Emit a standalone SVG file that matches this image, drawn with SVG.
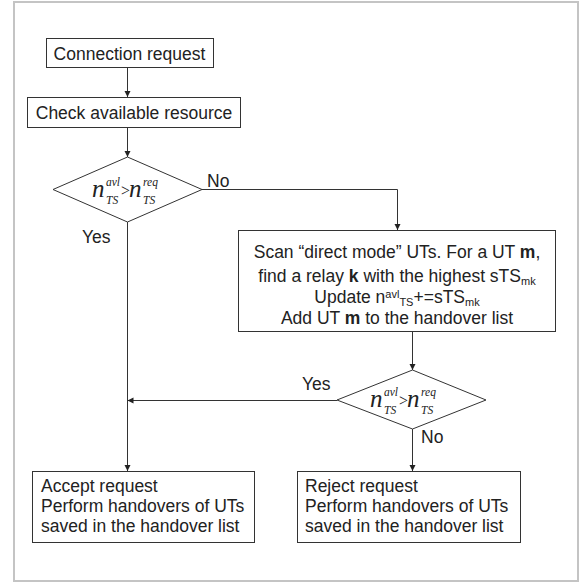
<svg xmlns="http://www.w3.org/2000/svg" width="582" height="583" viewBox="0 0 582 583">
<defs>
<style>
.box{fill:#fff;stroke:#333;stroke-width:1}
.t{font-family:"Liberation Sans",Arial,sans-serif;font-size:17.5px;fill:#222}
.f{font-family:"Liberation Serif","Times New Roman",serif;font-style:italic;fill:#222}
.big{font-size:25px}
.sm{font-size:11.5px}
.op{font-family:"Liberation Serif","Times New Roman",serif;font-size:16px;fill:#222}
.sub{font-size:11px}
.b{font-weight:bold}
.con{fill:none;stroke:#333;stroke-width:1}
</style>
<marker id="arr" markerWidth="8" markerHeight="8" refX="6" refY="3" orient="auto" markerUnits="userSpaceOnUse">
<path d="M0,0 L6,3 L0,6 Z" fill="#222"/>
</marker>
</defs>
<rect x="0" y="0" width="582" height="583" fill="#fff"/>
<rect x="14" y="2" width="564" height="579" fill="none" stroke="#c4c4c4" stroke-width="2"/>

<g id="connectors">
<path class="con" d="M127.5,67 V97" marker-end="url(#arr)"/>
<path class="con" d="M127.5,127 V157" marker-end="url(#arr)"/>
<path class="con" d="M202,189.5 H397.5 V230" marker-end="url(#arr)"/>
<path class="con" d="M412.5,332 V370" marker-end="url(#arr)"/>
<path class="con" d="M127.5,222 V471" marker-end="url(#arr)"/>
<path class="con" d="M337,400.5 H127.5" marker-end="url(#arr)"/>
<path class="con" d="M412.5,429 V471" marker-end="url(#arr)"/>
<text class="t" x="207" y="187">No</text>
<text class="t" x="82" y="243">Yes</text>
<text class="t" x="302" y="390">Yes</text>
<text class="t" x="421" y="443">No</text>
</g>

<g id="start">
<rect class="box" x="46.5" y="38.5" width="167" height="29"/>
<text class="t" x="129.5" y="60" text-anchor="middle">Connection request</text>
</g>

<g id="check">
<rect class="box" x="27.5" y="97.5" width="213" height="30"/>
<text class="t" x="134" y="119" text-anchor="middle">Check available resource</text>
</g>

<g id="decision1">
<polygon class="box" points="127.5,157 202,189.5 127.5,222 53,189.5"/>
<text class="f big" x="92" y="197">n</text>
<text class="f sm" x="106" y="186">avl</text>
<text class="f sm" x="106" y="204">TS</text>
<text class="op" x="121" y="196">&gt;</text>
<text class="f big" x="129" y="197">n</text>
<text class="f sm" x="143" y="186">req</text>
<text class="f sm" x="143" y="204">TS</text>
</g>

<g id="scan">
<rect class="box" x="238.5" y="230.5" width="317" height="101"/>
<text class="t" x="397" y="258" text-anchor="middle">Scan “direct mode” UTs. For a UT <tspan class="b">m</tspan>,</text>
<text class="t" x="397" y="282" text-anchor="middle">find a relay <tspan class="b">k</tspan> with the highest sTS<tspan class="sub" dy="3">mk</tspan></text>
<text class="t" x="397" y="303" text-anchor="middle">Update n<tspan class="sub" dy="-5">avl</tspan><tspan class="sub" dy="8">TS</tspan><tspan dy="-3">+=sTS</tspan><tspan class="sub" dy="3">mk</tspan></text>
<text class="t" x="397" y="324" text-anchor="middle">Add UT <tspan class="b">m</tspan> to the handover list</text>
</g>

<g id="decision2">
<polygon class="box" points="412.5,370 486,400 412.5,429 337,400"/>
<text class="f big" x="370" y="407">n</text>
<text class="f sm" x="384" y="396">avl</text>
<text class="f sm" x="384" y="414">TS</text>
<text class="op" x="399" y="406">&gt;</text>
<text class="f big" x="407" y="407">n</text>
<text class="f sm" x="421" y="396">req</text>
<text class="f sm" x="421" y="414">TS</text>
</g>

<g id="accept">
<rect class="box" x="32.5" y="471.5" width="222" height="71"/>
<text class="t" x="41" y="492">Accept request</text>
<text class="t" x="41" y="512">Perform handovers of UTs</text>
<text class="t" x="41" y="532">saved in the handover list</text>
</g>

<g id="reject">
<rect class="box" x="297.5" y="471.5" width="223" height="71"/>
<text class="t" x="305" y="492">Reject request</text>
<text class="t" x="305" y="512">Perform handovers of UTs</text>
<text class="t" x="305" y="532">saved in the handover list</text>
</g>
</svg>
